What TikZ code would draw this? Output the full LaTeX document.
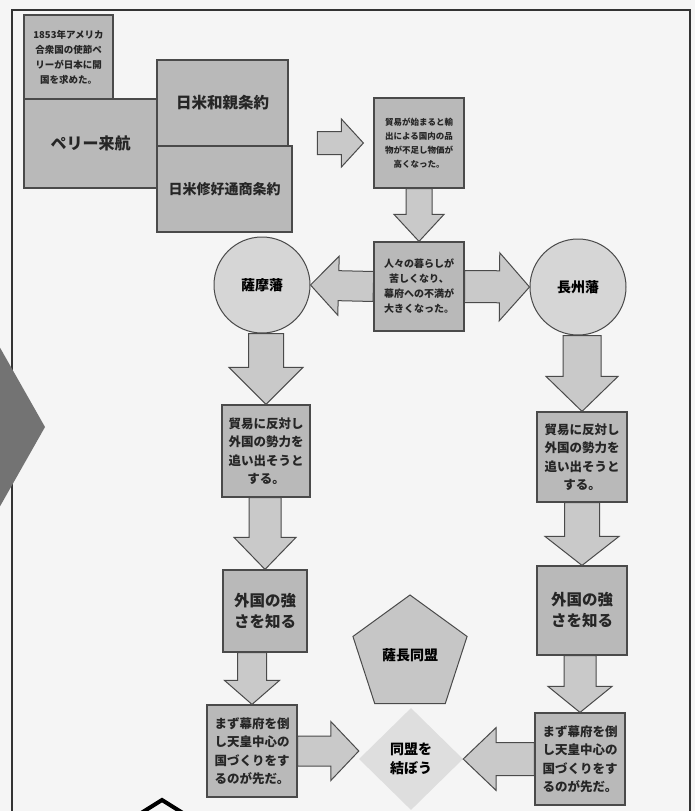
\documentclass[tikz,border=0pt]{standalone}
\usepackage{fontspec}
\newfontfamily\jp{Noto Sans CJK JP}
\usetikzlibrary{arrows.meta, positioning, calc, shapes.geometric}

\definecolor{boxgray}{HTML}{B9B9B9}
\definecolor{circgray}{HTML}{D6D6D6}
\definecolor{arrgray}{HTML}{C9C9C9}
\definecolor{pentgray}{HTML}{C6C6C6}
\definecolor{diagray}{HTML}{DEDEDE}
\definecolor{edgegray}{HTML}{4A4A4A}
\definecolor{paper}{HTML}{F5F5F5}

% 太い矢印: 始点, 先端, 軸の半幅, 頭の半幅, 頭の長さ
\newcommand{\blockarrow}[5]{%
    \coordinate (s) at (#1);
    \coordinate (t) at (#2);
    \coordinate (hb) at ($(t)!#5!(s)$);
    \draw[barrow] ($(s)!#3!90:(t)$) -- ($(hb)!#3!90:(t)$) -- ($(hb)!#4!90:(t)$)
        -- (t) -- ($(hb)!#4!-90:(t)$) -- ($(hb)!#3!-90:(t)$)
        -- ($(s)!#3!-90:(t)$) -- cycle;
}

\begin{document}
\begin{tikzpicture}[
    x=1pt, y=-1pt,
    font=\jp\bfseries,
    box/.style={draw=edgegray, fill=boxgray, line width=1.2pt, inner sep=0pt, align=center, text=black!85},
    circ/.style={circle, draw=edgegray, fill=circgray, line width=1pt, minimum size=96pt, inner sep=0pt},
    pent/.style={regular polygon, regular polygon sides=5, draw=edgegray, fill=pentgray, line width=1pt, minimum size=120pt, inner sep=0pt},
    dia/.style={diamond, fill=diagray, minimum width=104pt, minimum height=102pt, inner sep=0pt, align=center},
    barrow/.style={draw=edgegray, fill=arrgray, line width=1pt, line join=miter},
    frame/.style={draw=black!80, line width=1.6pt}
]
    \useasboundingbox (0,0) rectangle (695,811);
    \fill[paper] (0,0) rectangle (695,811);

    % 1. 枠と余白の図形
    \draw[frame] (12,811) -- (12,10) -- (690,10) -- (690,811);
    \fill[black!55] (-10,330) -- (45,427) -- (-10,524) -- cycle;
    \draw[black, line width=4pt] (138,815) -- (162,800) -- (186,815);

    % 2. 上段
    \node[box, minimum width=89pt, minimum height=84pt, font=\jp\bfseries\fontsize{9.5}{15}\selectfont] (note) at (68.5,57)
        {1853年アメリカ\\合衆国の使節ペ\\リーが日本に開\\国を求めた。};
    \node[box, minimum width=133pt, minimum height=89pt, font=\jp\bfseries\fontsize{16}{20}\selectfont] (perry) at (90.5,143.5) {ペリー来航};
    \node[box, minimum width=131pt, minimum height=86pt, font=\jp\bfseries\fontsize{15.5}{20}\selectfont] (washin) at (222.5,103) {日米和親条約};
    \node[box, minimum width=135pt, minimum height=86pt, font=\jp\bfseries\fontsize{14}{20}\selectfont] (tsusho) at (224.5,189) {日米修好通商条約};
    \node[box, minimum width=90pt, minimum height=90pt, font=\jp\bfseries\fontsize{8.5}{14}\selectfont] (boeki) at (419,143)
        {貿易が始まると輸\\出による国内の品\\物が不足し物価が\\高くなった。};
    \node[box, minimum width=90pt, minimum height=89pt, font=\jp\bfseries\fontsize{10}{15}\selectfont] (kurashi) at (419,286.5)
        {人々の暮らしが\\苦しくなり、\\幕府への不満が\\大きくなった。};

    % 3. 薩摩藩と長州藩
    \node[circ, font=\jp\bfseries\fontsize{14}{16}\selectfont] (satsuma) at (262,285) {薩摩藩};
    \node[circ, font=\jp\bfseries\fontsize{14}{16}\selectfont] (choshu) at (578,287) {長州藩};

    \node[box, minimum width=88pt, minimum height=92pt, font=\jp\bfseries\fontsize{12.5}{18.5}\selectfont] (hantaiL) at (266,451)
        {貿易に反対し\\外国の勢力を\\追い出そうと\\する。};
    \node[box, minimum width=90pt, minimum height=90pt, font=\jp\bfseries\fontsize{12.5}{18.5}\selectfont] (hantaiR) at (582,457)
        {貿易に反対し\\外国の勢力を\\追い出そうと\\する。};
    \node[box, minimum width=84pt, minimum height=82pt, font=\jp\bfseries\fontsize{15.5}{21}\selectfont] (gaikokuL) at (265,611) {外国の強\\さを知る};
    \node[box, minimum width=90pt, minimum height=89pt, font=\jp\bfseries\fontsize{15.5}{21}\selectfont] (gaikokuR) at (582,610.5) {外国の強\\さを知る};
    \node[box, minimum width=90pt, minimum height=92pt, font=\jp\bfseries\fontsize{12.5}{18.5}\selectfont] (mazuL) at (252,751)
        {まず幕府を倒\\し天皇中心の\\国づくりをす\\るのが先だ。};
    \node[box, minimum width=90pt, minimum height=92pt, font=\jp\bfseries\fontsize{12.5}{18.5}\selectfont] (mazuR) at (580,759)
        {まず幕府を倒\\し天皇中心の\\国づくりをす\\るのが先だ。};

    % 4. 薩長同盟
    \node[pent, font=\jp\bfseries\fontsize{14}{16}\selectfont] (rengo) at (410,655) {薩長同盟};
    \node[dia, font=\jp\bfseries\fontsize{14}{19}\selectfont] (domei) at (411,759) {同盟を\\結ぼう};

    % 5. 矢印
    \blockarrow{$(boeki.west)+(-56,0)$}{$(boeki.west)+(-10,0)$}{11.5pt}{24pt}{22pt}
    \blockarrow{boeki.south}{kurashi.north}{13pt}{25pt}{27pt}
    \blockarrow{kurashi.west}{satsuma.east}{15pt}{29.5pt}{28pt}
    \blockarrow{kurashi.east}{choshu.west}{16pt}{34pt}{30pt}
    \blockarrow{satsuma.south -| hantaiL.north}{hantaiL.north}{17.5pt}{37pt}{37pt}
    \blockarrow{choshu.south -| hantaiR.north}{hantaiR.north}{19pt}{36pt}{35pt}
    \blockarrow{hantaiL.south -| gaikokuL.north}{gaikokuL.north}{16pt}{31pt}{32pt}
    \blockarrow{hantaiR.south}{gaikokuR.north}{17.5pt}{37pt}{29pt}
    \blockarrow{gaikokuL.south -| mazuL.north}{mazuL.north}{14.5pt}{27.5pt}{24pt}
    \blockarrow{gaikokuR.south -| mazuR.north}{mazuR.north}{16pt}{32pt}{26pt}
    \blockarrow{mazuL.east}{domei.west |- mazuL.east}{15pt}{29.5pt}{28pt}
    \blockarrow{mazuR.west}{domei.east |- mazuR.west}{16.5pt}{31.5pt}{33pt}
\end{tikzpicture}
\end{document}
